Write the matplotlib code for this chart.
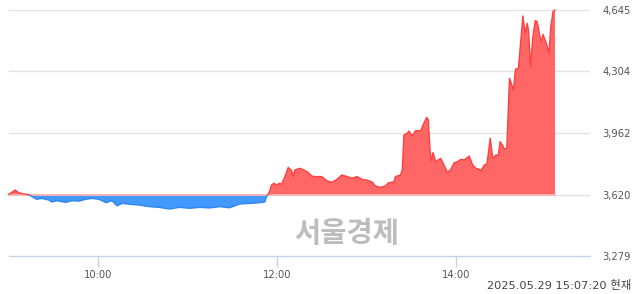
import matplotlib
matplotlib.use("Agg")
import matplotlib.pyplot as plt
import numpy as np
from matplotlib.patches import Rectangle

# minutes since 09:00
minutes = [0, 4.5, 6.7, 10.1, 13.5, 15.7, 18.9, 22.2, 27.0, 29.0, 32.4, 38.4, 42.5, 47.2,
           51.9, 56.0, 60.7, 65.4, 69.4, 72.8, 76.2, 82.9, 87.6, 94.4, 101.1, 107.9,
           114.6, 121.4, 128.1, 134.8, 141.6, 148.3, 155.1, 161.8, 168.6, 171.9, 173.1,
           174.8, 176.4, 178.0, 179.8, 181.6, 183.2, 185.4, 187.6, 189.9, 191.0, 192.1,
           195.5, 198.9, 201.1, 203.4, 205.6, 210.1, 213.5, 216.9, 220.3, 223.6, 227.0,
           230.4, 233.7, 237.1, 240.5, 243.9, 246.1, 249.5, 252.8, 255.0, 258.4, 259.6,
           262.9, 264.1, 265.2, 267.4, 268.5, 270.8, 273.0, 276.4, 278.6, 280.5, 281.6,
           282.7, 283.6, 284.7, 286.5, 289.9, 292.1, 294.4, 296.6, 298.9, 301.2, 303.4,
           305.6, 309.0, 311.3, 313.5, 315.7, 316.9, 319.1, 320.9, 323.1, 324.8, 327.0,
           328.5, 329.7, 331.5, 332.6, 334.2, 336.0, 338.7, 340.0, 342.0, 345.0, 346.5,
           347.9, 348.8, 350.1, 351.7, 353.3, 354.6, 356.2, 357.3, 358.5, 360.7, 362.5,
           363.6, 365.2, 366.5]
prices = [3620, 3645, 3631, 3624, 3620, 3609, 3594, 3599, 3590, 3579, 3586, 3577, 3586, 3584,
          3594, 3599, 3594, 3575, 3586, 3558, 3571, 3565, 3562, 3553, 3549, 3540,
          3549, 3544, 3549, 3546, 3553, 3547, 3568, 3571, 3575, 3579, 3609,
          3631, 3673, 3683, 3673, 3683, 3678, 3720, 3771, 3753, 3720, 3757,
          3766, 3753, 3742, 3723, 3720, 3720, 3697, 3688, 3705, 3729, 3720,
          3711, 3720, 3705, 3700, 3690, 3668, 3660, 3668, 3686, 3690, 3720,
          3729, 3757, 3951, 3960, 3973, 3945, 3975, 3975, 4016, 4049, 4034,
          3868, 3808, 3853, 3803, 3821, 3784, 3742, 3760, 3797, 3803, 3816,
          3812, 3834, 3784, 3766, 3760, 3753, 3784, 3790, 3933, 3821, 3840,
          3838, 3914, 3892, 3872, 3877, 4266, 4201, 4316, 4321, 4612, 4516,
          4571, 4530, 4330, 4497, 4586, 4580, 4506, 4469, 4510, 4460, 4405,
          4543, 4636, 4645]

base_price = 3620
y_ticks = [3279, 3620, 3962, 4304, 4645]
y_tick_labels = ["3,279", "3,620", "3,962", "4,304", "4,645"]
x_ticks = [60, 180, 300]
x_tick_labels = ["10:00", "12:00", "14:00"]
timestamp = "2025.05.29 15:07:20 현재"
watermark = "서울경제"

W, H = 640, 294
fig = plt.figure(figsize=(W / 100, H / 100), dpi=100)
ax = fig.add_axes([8.5 / W, (H - 256) / H, (590 - 8.5) / W, (256 - 10) / H])

t = np.array(minutes)
p = np.array(prices, dtype=float)

ax.set_xlim(0, 390)
ax.set_ylim(y_ticks[0], y_ticks[-1])

for yv in y_ticks[1:]:
    ax.axhline(yv, color="#e3e3e3", lw=1, zorder=0)

red_fill = "#ff6666"
red_line = "#ff4040"
blue_fill = "#4499ff"
blue_line = "#2f86f0"

ax.fill_between(t, p, base_price, where=p >= base_price, interpolate=True,
                color=red_fill, lw=0, zorder=2)
ax.fill_between(t, p, base_price, where=p <= base_price, interpolate=True,
                color=blue_fill, lw=0, zorder=2)

ax.axhline(base_price, xmin=0, xmax=t[-1] / 390, color="#ffb3b3", lw=1.3, zorder=3)

l1, = ax.plot(t, p, color=red_line, lw=1, zorder=4)
l2, = ax.plot(t, p, color=blue_line, lw=1, zorder=4)
r_up = Rectangle((-10, base_price), 420, 5000, transform=ax.transData)
r_dn = Rectangle((-10, 0), 420, base_price, transform=ax.transData)
l1.set_clip_path(r_up)
l2.set_clip_path(r_dn)

for s in ["top", "right", "left"]:
    ax.spines[s].set_visible(False)
ax.spines["bottom"].set_color("#c5d3ea")
ax.spines["bottom"].set_linewidth(1)

ax.yaxis.tick_right()
ax.set_yticks(y_ticks)
ax.set_yticklabels(y_tick_labels)
ax.tick_params(axis="y", length=0, pad=9, labelsize=7.2, labelcolor="#555555")
ax.set_xticks(x_ticks)
ax.set_xticklabels(x_tick_labels)
ax.tick_params(axis="x", length=8, width=1, color="#c5d3ea", pad=2,
               labelsize=7.2, labelcolor="#555555")

fig.text(347 / W, 1 - 234 / H, watermark, ha="center", va="center",
         fontsize=20.5, fontweight="bold", color="#bdbdbd",
         family=["Noto Sans CJK KR", "DejaVu Sans"], zorder=10)
fig.text(631 / W, 1 - 285 / H, timestamp, ha="right", va="center",
         fontsize=8.2, color="#444444",
         family=["DejaVu Sans", "Noto Sans CJK KR"])

fig.savefig("out.png", dpi=100)
